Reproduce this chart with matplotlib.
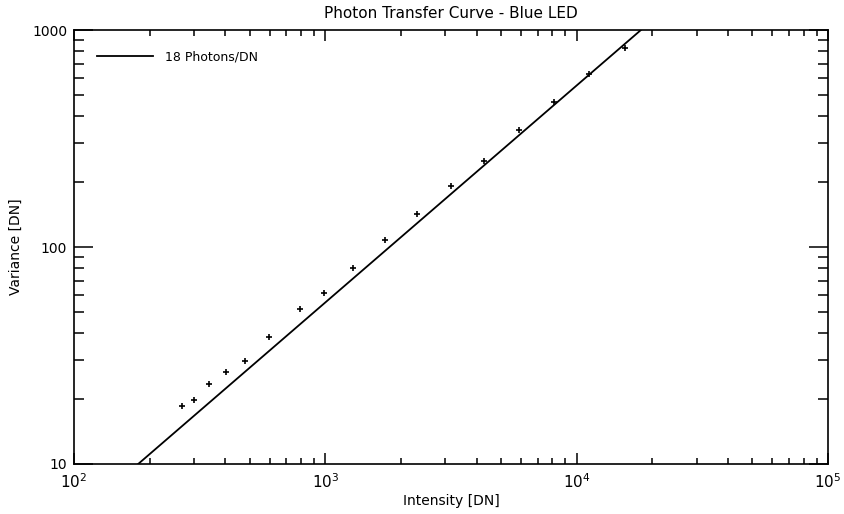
import numpy as np
import matplotlib
matplotlib.use('Agg')
import matplotlib.pyplot as plt
from matplotlib.ticker import LogLocator, FixedLocator, FixedFormatter, NullFormatter

intensity = [270, 301, 344, 402, 478, 599, 793, 989, 1292, 1729, 2311,
             3155, 4293, 5916, 8131, 11236, 15580]
variance = [18.6, 19.7, 23.4, 26.5, 29.9, 38.4, 51.8, 61.4, 80.0, 107.4,
            141.5, 191, 249, 346, 466, 625, 829]

gain = 18.0  # photons / DN
fit_x = np.array([100.0, 100000.0])
fit_y = fit_x / gain

x_ticks = [1e2, 1e3, 1e4, 1e5]
x_labels = [r'$10^2$', r'$10^3$', r'$10^4$', r'$10^5$']
y_ticks = [10, 100, 1000]
y_labels = ['10', '100', '1000']

fig = plt.figure(figsize=(8.45, 5.14), dpi=100)
ax = fig.add_axes([0.0876, 0.0973, 0.8924, 0.8443])

ax.plot(fit_x, fit_y, color='black', lw=1.3, label='18 Photons/DN')
ax.plot(intensity, variance, linestyle='none', marker='+', color='black',
        markersize=5, mew=1.2)

ax.set_xscale('log')
ax.set_yscale('log')
ax.set_xlim(1e2, 1e5)
ax.set_ylim(10, 1000)

ax.xaxis.set_major_locator(FixedLocator(x_ticks))
ax.xaxis.set_major_formatter(FixedFormatter(x_labels))
ax.yaxis.set_major_locator(FixedLocator(y_ticks))
ax.yaxis.set_major_formatter(FixedFormatter(y_labels))
ax.xaxis.set_minor_locator(LogLocator(base=10, subs=np.arange(2, 10)))
ax.yaxis.set_minor_locator(LogLocator(base=10, subs=np.arange(2, 10)))
ax.xaxis.set_minor_formatter(NullFormatter())
ax.yaxis.set_minor_formatter(NullFormatter())

ax.tick_params(axis='both', which='both', direction='in', top=True, right=True,
               width=1.1, color='black')
ax.tick_params(axis='x', which='major', length=8, labelsize=11, pad=6)
ax.tick_params(axis='x', which='minor', length=4.5)
ax.tick_params(axis='y', which='major', length=14, labelsize=10, pad=5)
ax.tick_params(axis='y', which='minor', length=7)
for s in ax.spines.values():
    s.set_linewidth(1.2)

ax.set_title('Photon Transfer Curve - Blue LED', fontsize=11, pad=9)
ax.set_xlabel('Intensity [DN]', fontsize=10, labelpad=2)
ax.set_ylabel('Variance [DN]', fontsize=10)
ax.yaxis.set_label_coords(-0.068, 0.5)

ax.legend(loc='center left', frameon=False, fontsize=9, handlelength=4.5,
          handletextpad=1.0, borderpad=0, borderaxespad=0,
          bbox_to_anchor=(0.03, 0.938))

fig.savefig('out.png', dpi=100)
